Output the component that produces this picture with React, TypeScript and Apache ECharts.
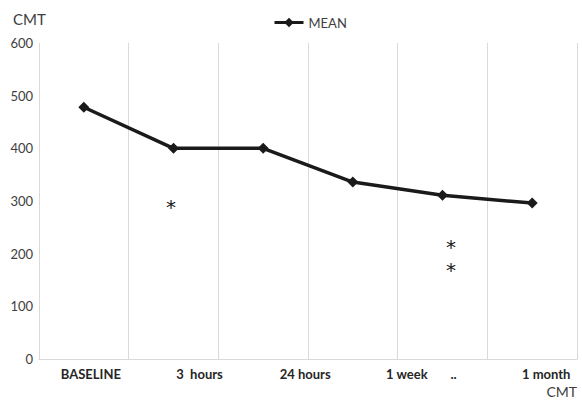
import React, { useEffect, useRef } from "react";
import * as echarts from "echarts";

const categories = ["BASELINE", "3  hours", "24 hours", "1 week", "..", "1 month"];
const labelShift = [14, 52, 84, 108, 22, 28];
const meanValues = [478, 400, 400, 336, 311, 296];
const yMin = 0;
const yMax = 600;
const yInterval = 100;

const FONT = "Lato, 'Open Sans', sans-serif";
const STAR_FONT = "'DejaVu Sans', sans-serif";

export default function App() {
  const ref = useRef<HTMLDivElement>(null);
  useEffect(() => {
    if (!ref.current) return;
    const chart = echarts.init(ref.current, undefined, { renderer: "svg" });
    chart.setOption({
      animation: false,
      backgroundColor: "#ffffff",
      textStyle: { fontFamily: FONT },
      legend: {
        data: ["MEAN"],
        left: 268,
        top: 11,
        itemWidth: 29,
        itemHeight: 12,
        itemGap: 8,
        lineStyle: { width: 3, color: "#1a1a1a" },
        itemStyle: { color: "#1a1a1a" },
        textStyle: { fontSize: 13, color: "#404040", fontFamily: FONT },
      },
      grid: { left: 39, right: 5, top: 43, bottom: 42, containLabel: false },
      xAxis: {
        type: "category",
        boundaryGap: true,
        data: categories.map((c, i) => ({
          value: c,
          textStyle: { padding: [0, 0, 0, labelShift[i]] },
        })),
        axisLine: { show: true, lineStyle: { color: "#d9d9d9", width: 1 } },
        axisTick: { show: false },
        splitLine: { show: true, lineStyle: { color: "#d9d9d9", width: 1 } },
        axisLabel: {
          interval: 0,
          margin: 8,
          fontSize: 13,
          fontWeight: "bold",
          color: "#262626",
          fontFamily: FONT,
        },
      },
      yAxis: {
        type: "value",
        min: yMin,
        max: yMax,
        interval: yInterval,
        axisLine: { show: false },
        axisTick: { show: false },
        splitLine: { show: false },
        axisLabel: { margin: 6, fontSize: 13, color: "#404040", fontFamily: FONT },
      },
      series: [
        {
          name: "MEAN",
          type: "line",
          data: meanValues,
          symbol: "diamond",
          symbolSize: 11,
          lineStyle: { color: "#1a1a1a", width: 3.5 },
          itemStyle: { color: "#1a1a1a" },
        },
      ],
      graphic: [
        { type: "text", left: 13, top: 11, style: { text: "CMT", fontSize: 15, fill: "#404040", fontFamily: FONT } },
        { type: "text", right: 5, top: 384, style: { text: "CMT", fontSize: 14, fill: "#404040", fontFamily: FONT } },
        { type: "text", x: 171, y: 207, style: { text: "*", fontSize: 20, fill: "#1a1a1a", fontFamily: STAR_FONT, align: "center", verticalAlign: "middle" } },
        { type: "text", x: 451, y: 247, style: { text: "*", fontSize: 20, fill: "#1a1a1a", fontFamily: STAR_FONT, align: "center", verticalAlign: "middle" } },
        { type: "text", x: 451, y: 270, style: { text: "*", fontSize: 20, fill: "#1a1a1a", fontFamily: STAR_FONT, align: "center", verticalAlign: "middle" } },
      ],
    });
    return () => chart.dispose();
  }, []);
  return <div ref={ref} style={{ width: 582, height: 401, position: "absolute", left: 0, top: 0 }} />;
}
